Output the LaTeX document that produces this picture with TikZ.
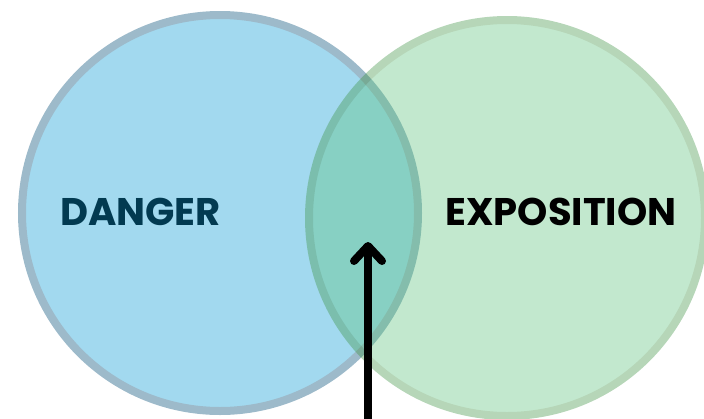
\documentclass[tikz,border=0pt]{standalone}
\usepackage{fontspec}
\usepackage{tikz}
\usetikzlibrary{arrows.meta}
\newfontfamily\poppinsfont{Poppins}
\definecolor{dangerfill}{HTML}{A2D9EF}
\definecolor{dangerline}{HTML}{9DBACA}
\definecolor{expofill}{RGB}{92,194,124}
\definecolor{expoline}{RGB}{60,146,66}
\definecolor{dangertext}{HTML}{023A51}
\begin{document}
\begin{tikzpicture}[x=1pt,y=-1pt]
\tikzstyle{every node}+=[inner sep=0pt]
\tikzstyle{setlabel}=[font=\poppinsfont\bfseries\fontsize{38.5}{40}\selectfont]
\useasboundingbox (0,0) rectangle (704,418);
\draw [line width=8pt,draw=dangerline,fill=dangerfill] (220,213) circle (198);
\begin{scope}[transparency group,opacity=0.375]
\draw [line width=8pt,draw=expoline,fill=expofill] (507,218) circle (198);
\end{scope}
\node [setlabel,text=dangertext] (danger) at (140.5,211.5) {DANGER};
\node [setlabel,text=black] (expo) at (561,211.5) {EXPOSITION};
\coordinate (tail) at (368,420);
\coordinate (tip) at (368,242);
\draw [line width=8pt,-{Straight Barb[round,length=15pt,width=28pt]}] (tail) -- (tip);
\end{tikzpicture}
\end{document}
